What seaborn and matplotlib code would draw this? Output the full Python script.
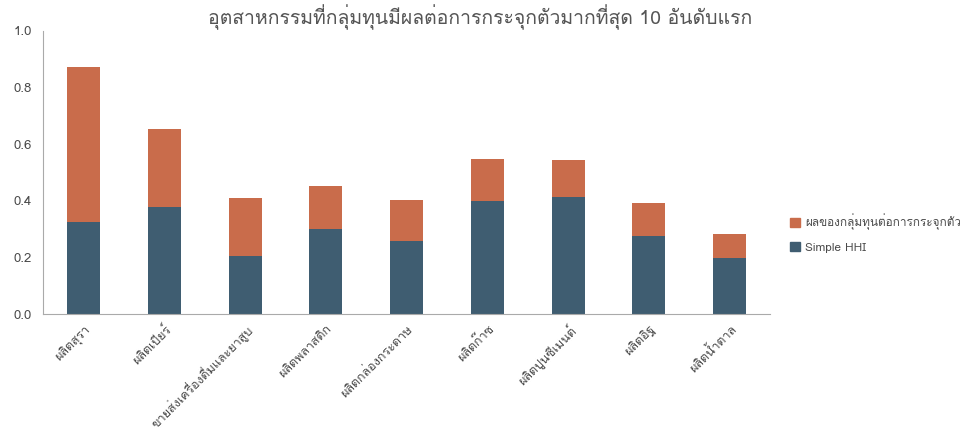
import matplotlib
matplotlib.use("Agg")
import matplotlib.pyplot as plt
import matplotlib.font_manager as fm
import seaborn as sns
import numpy as np
import pandas as pd
from matplotlib.patches import Patch

industries = [
    "ผลิตสุรา",
    "ผลิตเบียร์",
    "ขายส่งเครื่องดื่มและยาสูบ",
    "ผลิตพลาสติก",
    "ผลิตกล่องกระดาษ",
    "ผลิตก๊าซ",
    "ผลิตปูนซีเมนต์",
    "ผลิตอิฐ",
    "ผลิตน้ำตาล",
]
simple_hhi = [0.325, 0.378, 0.205, 0.300, 0.258, 0.400, 0.413, 0.276, 0.198]
group_effect = [0.548, 0.276, 0.205, 0.152, 0.145, 0.148, 0.131, 0.116, 0.085]

title = "อุตสาหกรรมที่กลุ่มทุนมีผลต่อการกระจุกตัวมากที่สุด 10 อันดับแรก"
legend_labels = ["ผลของกลุ่มทุนต่อการกระจุกตัว", "Simple HHI"]

col_effect = "#C96C4B"
col_hhi = "#3F5D71"
txt_col = "#4A4A4A"

df = pd.DataFrame({"industry": industries, "hhi": simple_hhi, "effect": group_effect})
df["total"] = df["hhi"] + df["effect"]

sns.set_style("white")
thai = [f.name for f in fm.fontManager.ttflist if "Thai" in f.name or "Loma" in f.name or "Garuda" in f.name]
plt.rcParams["font.family"] = thai[:1] + ["DejaVu Sans", "Noto Sans"]

fig = plt.figure(figsize=(9.6, 4.4), dpi=100)
ax = fig.add_axes([0.045, 0.286, 0.757, 0.644])

sns.barplot(data=df, x="industry", y="total", color=col_effect, width=0.41,
            saturation=1, linewidth=0, ax=ax)
sns.barplot(data=df, x="industry", y="hhi", color=col_hhi, width=0.41,
            saturation=1, linewidth=0, ax=ax)

ax.set_xlim(-0.5, 8.5)
ax.set_ylim(0, 1.0)
ax.set_yticks(np.arange(0, 1.01, 0.2))
ax.set_yticklabels([f"{v:.1f}" for v in np.arange(0, 1.01, 0.2)], color=txt_col, fontsize=9.5)
ax.set_xticks(range(len(industries)))
ax.set_xticklabels(industries, rotation=45, ha="right", rotation_mode="anchor",
                   color=txt_col, fontsize=9)
ax.set_xlabel("")
ax.set_ylabel("")
ax.tick_params(axis="y", length=0, pad=8)
ax.tick_params(axis="x", length=0, pad=6)
for s in ["top", "right"]:
    ax.spines[s].set_visible(False)
for s in ["left", "bottom"]:
    ax.spines[s].set_color("#AAAAAA")

fig.suptitle(title, x=0.5, y=0.99, fontsize=14, color="#555555", fontweight="light")

handles = [Patch(color=col_effect), Patch(color=col_hhi)]
fig.legend(handles, legend_labels, loc="center left", bbox_to_anchor=(0.812, 0.47),
           frameon=False, fontsize=8.5, labelcolor=txt_col,
           handlelength=0.8, handleheight=0.8, handletextpad=0.5, labelspacing=1.0)

fig.savefig("out.png", dpi=100)
